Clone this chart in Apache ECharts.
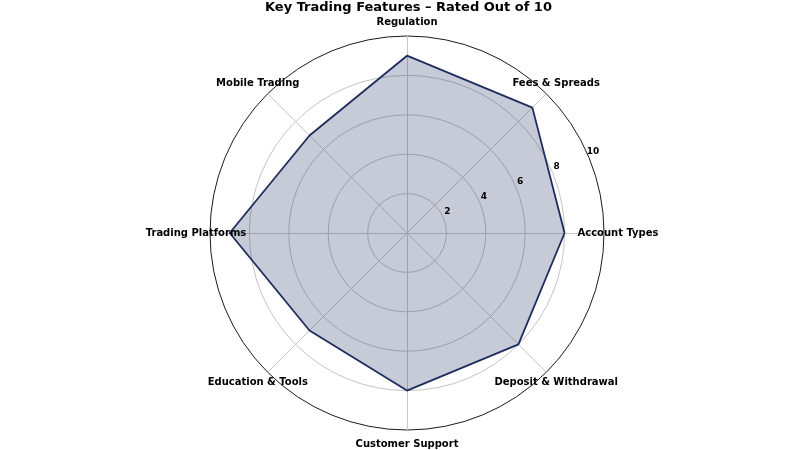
<!DOCTYPE html>
<html>
<head>
<meta charset="utf-8">
<script src="https://cdn.jsdelivr.net/npm/echarts@6/dist/echarts.min.js"></script>
<style>
  html, body { margin: 0; padding: 0; background: #fff; }
  #chart { width: 800px; height: 450px; }
</style>
</head>
<body>
<div id="chart"></div>
<script>
// axes go counter-clockwise starting from the right
const features = ['Account Types', 'Fees & Spreads', 'Regulation', 'Mobile Trading',
  'Trading Platforms', 'Education & Tools', 'Customer Support', 'Deposit & Withdrawal'];
const ratings = [8, 9, 9, 7, 9, 7, 8, 8];
const maxRating = 10;
const ringStep = 2;
const tickValues = [2, 4, 6, 8, 10];

const font = 'DejaVu Sans';
const center = [407, 233];
const radius = 197;

const chart = echarts.init(document.getElementById('chart'), null, {renderer: 'canvas'});

chart.setOption({
  animation: false,
  backgroundColor: '#fff',
  title: {
    text: 'Key Trading Features \u2013 Rated Out of 10',
    left: 265,
    top: 1,
    padding: 0,
    textStyle: {fontFamily: font, fontSize: 13, fontWeight: 'bold', color: '#000'}
  },
  radar: {
    shape: 'circle',
    center: center,
    radius: radius,
    startAngle: 0,
    splitNumber: maxRating / ringStep,
    indicator: features.map(name => ({name: name, max: maxRating, min: 0})),
    axisName: {show: false},
    axisLine: {lineStyle: {color: '#c8c8c8', width: 1}},
    axisTick: {show: false},
    splitLine: {
      lineStyle: {
        color: ['#c4c4c4', '#c4c4c4', '#c4c4c4', '#c4c4c4', '#c4c4c4', '#1a1a1a'],
        width: 1
      }
    },
    splitArea: {show: false}
  },
  polar: [
    // ring on which the feature names are centred
    {center: center, radius: 211},
    // ring used for the value tick labels
    {center: center, radius: 203}
  ],
  angleAxis: [
    {polarIndex: 0, type: 'category', data: features, startAngle: 0,
      clockwise: false, boundaryGap: false, show: false},
    {polarIndex: 1, type: 'value', min: 0, max: 360, startAngle: 22.5,
      clockwise: false, show: false}
  ],
  radiusAxis: [
    {polarIndex: 0, type: 'value', min: 0, max: maxRating, show: false},
    {
      polarIndex: 1,
      type: 'value',
      min: -0.3,
      max: maxRating,
      axisLine: {show: false},
      axisTick: {show: false},
      splitLine: {show: false},
      axisLabel: {
        customValues: tickValues,
        margin: 4,
        align: 'center',
        verticalAlign: 'middle',
        fontFamily: font,
        fontSize: 9,
        fontWeight: 'bold',
        color: '#000'
      },
      z: 10
    }
  ],
  series: [
    {
      type: 'radar',
      symbol: 'none',
      lineStyle: {color: '#1f2d5e', width: 1.8},
      areaStyle: {color: 'rgba(31,45,94,0.25)', opacity: 1},
      data: [{value: ratings, name: 'Rating'}]
    },
    {
      type: 'scatter',
      coordinateSystem: 'polar',
      polarIndex: 0,
      symbolSize: 0,
      silent: true,
      z: 10,
      itemStyle: {opacity: 1},
      label: {
        show: true,
        position: 'inside',
        formatter: '{b}',
        fontFamily: font,
        fontSize: 10,
        fontWeight: 'bold',
        color: '#000',
        opacity: 1
      },
      data: features.map(name => ({name: name, value: [maxRating, name]}))
    }
  ]
});
</script>
</body>
</html>
